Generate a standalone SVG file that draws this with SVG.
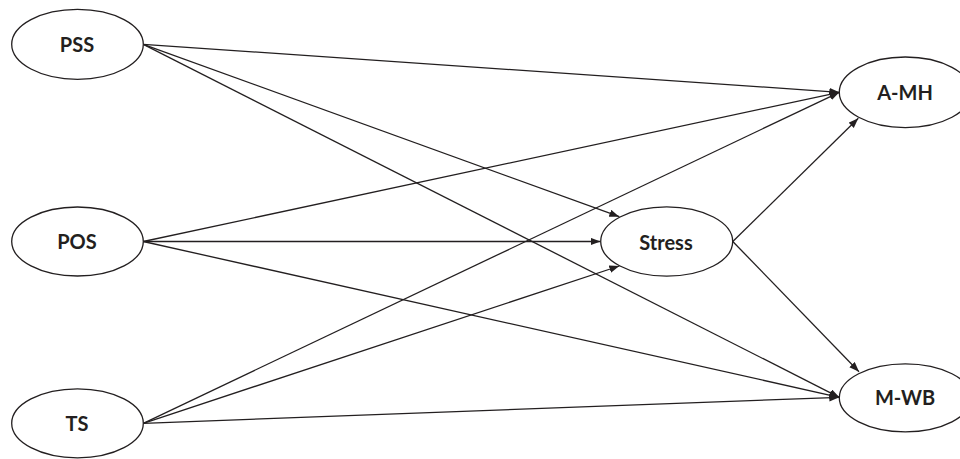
<svg xmlns="http://www.w3.org/2000/svg" width="960" height="459" viewBox="0 0 960 459">
<style>
.node ellipse{fill:#fff;stroke:#231f20;stroke-width:1.3}
.node text{font-family:Lato,"Open Sans","Liberation Sans",sans-serif;font-weight:700;font-size:20px;fill:#231f20;text-anchor:middle}
.edges line{stroke:#231f20;stroke-width:1.3;marker-end:url(#arr)}
</style>
<defs>
<marker id="arr" markerUnits="userSpaceOnUse" markerWidth="11" markerHeight="8" refX="10" refY="3.75" orient="auto">
<path d="M0,0 L10,3.75 L0,7.5 z" fill="#231f20"/>
</marker>
</defs>
<g id="edges" class="edges">
<line x1="143.3" y1="44.3" x2="839.3" y2="92.3"/>
<line x1="143.3" y1="44.3" x2="619.3" y2="216.7"/>
<line x1="143.3" y1="44.3" x2="839.3" y2="397.3"/>
<line x1="143.3" y1="241.5" x2="839.3" y2="92.3"/>
<line x1="143.3" y1="241.5" x2="600.5" y2="241.5"/>
<line x1="143.3" y1="241.5" x2="839.3" y2="397.3"/>
<line x1="143.3" y1="423.3" x2="839.3" y2="92.3"/>
<line x1="143.3" y1="423.3" x2="619.3" y2="266"/>
<line x1="143.3" y1="423.3" x2="839.3" y2="397.3"/>
<line x1="732.8" y1="241.5" x2="858.3" y2="118.3"/>
<line x1="732.8" y1="241.5" x2="859" y2="371.7"/>
</g>
<g id="PSS" class="node"><ellipse cx="77.5" cy="44.3" rx="65.8" ry="35"/><text x="77" y="52">PSS</text></g>
<g id="POS" class="node"><ellipse cx="77.5" cy="241.5" rx="65.8" ry="34.5"/><text x="77" y="249.3">POS</text></g>
<g id="TS" class="node"><ellipse cx="77.5" cy="423.3" rx="65.8" ry="34.5"/><text x="77" y="431">TS</text></g>
<g id="Stress" class="node"><ellipse cx="666.7" cy="241.5" rx="66" ry="34.7"/><text x="666" y="249.5">Stress</text></g>
<g id="A-MH" class="node"><ellipse cx="905.3" cy="92.3" rx="66" ry="35.3"/><text x="905" y="99.5">A-MH</text></g>
<g id="M-WB" class="node"><ellipse cx="905.3" cy="397.8" rx="66" ry="34"/><text x="905" y="405">M-WB</text></g>
</svg>
